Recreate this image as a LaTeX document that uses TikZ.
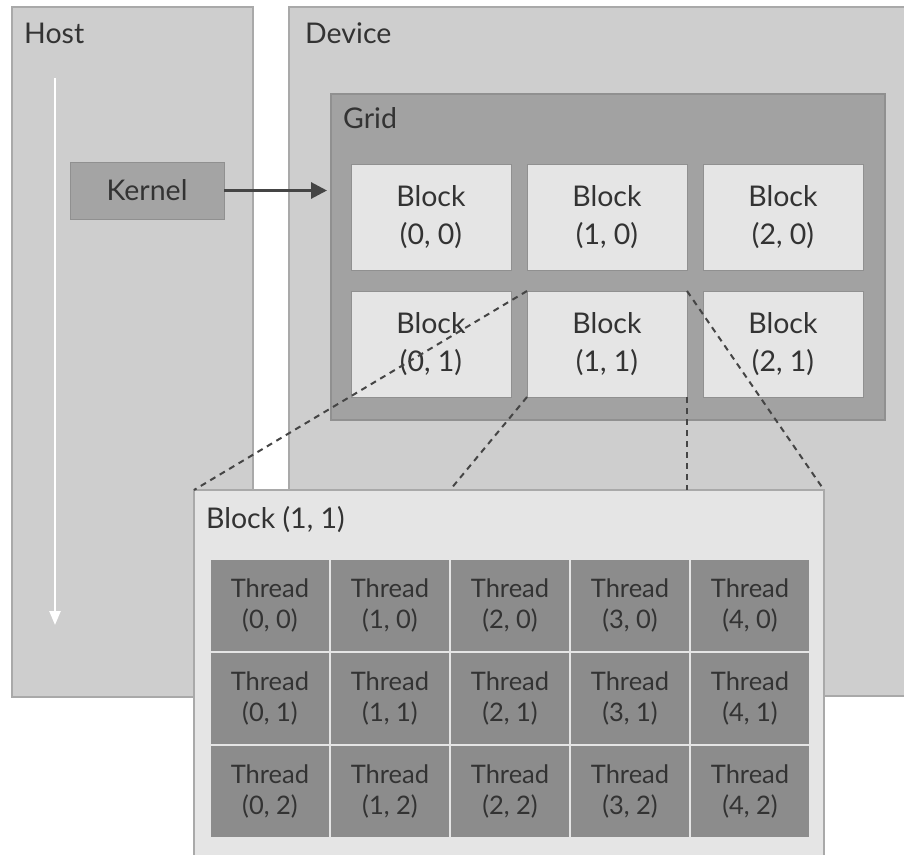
\documentclass[tikz,border=0pt]{standalone}
\usepackage{fontspec}
\setmainfont{Lato}
\usetikzlibrary{arrows.meta}
\definecolor{panelfill}{HTML}{CECECE}
\definecolor{panelline}{HTML}{A9A9A9}
\definecolor{gridfill}{HTML}{A2A2A2}
\definecolor{gridline}{HTML}{909090}
\definecolor{blockfill}{HTML}{E5E5E5}
\definecolor{kernelfill}{HTML}{A4A4A4}
\definecolor{threadfill}{HTML}{8C8C8C}
\definecolor{txt}{HTML}{333333}
\definecolor{arrowc}{HTML}{454545}
\begin{document}
\begin{tikzpicture}[x=1pt,y=-1pt,
  panel/.style={rectangle, anchor=north west, inner sep=0pt, outer sep=0pt, line width=1.2pt, draw=panelline, fill=panelfill},
  blockbox/.style={rectangle, inner sep=0pt, outer sep=0pt, minimum width=160pt, minimum height=106pt, fill=blockfill, draw=gridline, line width=0.8pt, align=center, text=txt, font=\fontsize{28.5}{38}\selectfont},
  threadbox/.style={rectangle, inner sep=0pt, outer sep=0pt, minimum width=120pt, minimum height=93pt, fill=threadfill, draw=blockfill, line width=1.5pt, align=center, text=txt, font=\fontsize{25.5}{31}\selectfont},
  lbl/.style={anchor=base west, inner sep=0pt, text=txt, font=\fontsize{28.5}{30}\selectfont},
  dashlink/.style={draw=arrowc, line width=2pt, dash pattern=on 6pt off 5pt}
]
\useasboundingbox (0,0) rectangle (904,854);
% Host and Device panels
\node[panel, minimum width=241pt, minimum height=690pt] (host) at (12,7) {};
\node[panel, minimum width=620pt, minimum height=689pt] (device) at (289,7) {};
\node[lbl] (hostlbl) at (24,43) {Host};
\node[lbl] (devlbl) at (305,43) {Device};
% Host time arrow
\coordinate (hs) at (55,78);
\coordinate (he) at (55,625);
\draw[white, line width=2.5pt, -{Triangle[length=14pt,width=11pt]}] (hs) -- (he);
% Kernel
\node[rectangle, inner sep=0pt, outer sep=0pt, minimum width=154pt, minimum height=57pt, fill=kernelfill, draw=gridline, line width=0.8pt, text=txt, font=\fontsize{28.5}{30}\selectfont] (kernel) at (147,190.5) {Kernel};
% Grid
\node[panel, fill=gridfill, draw=gridline, minimum width=554pt, minimum height=326pt] (grid) at (331,94) {};
\node[lbl] (gridlbl) at (343,128) {Grid};
\draw[arrowc, line width=3pt, -{Triangle[length=16pt,width=16pt]}, shorten >=4pt] (kernel.east) -- (kernel.east -| grid.west);
% Blocks
\node[blockbox] (b00) at (431,217) {Block\\(0, 0)};
\node[blockbox] (b10) at (607,217) {Block\\(1, 0)};
\node[blockbox] (b20) at (783,217) {Block\\(2, 0)};
\node[blockbox] (b01) at (431,344) {Block\\(0, 1)};
\node[blockbox] (b11) at (607,344) {Block\\(1, 1)};
\node[blockbox] (b21) at (783,344) {Block\\(2, 1)};
% Block detail panel
\node[panel, fill=blockfill, minimum width=630pt, minimum height=390pt] (bp) at (194,490) {};
\node[lbl] (bplbl) at (206,528) {Block (1, 1)};
% Threads
\foreach \i in {0,...,4}{
  \foreach \j in {0,1,2}{
    \node[threadbox] (t\i\j) at ({270+120*\i},{605.5+93*\j}) {Thread\\(\i, \j)};
  }
}
% Dashed zoom links
\coordinate (bpin) at (450,490);
\draw[dashlink] (b11.north west) -- (bp.north west);
\draw[dashlink] (b11.south west) -- (bpin);
\draw[dashlink] (b11.north east) -- (bp.north east);
\draw[dashlink] (b11.south east) -- (b11.south east |- bp.north);
\end{tikzpicture}
\end{document}
